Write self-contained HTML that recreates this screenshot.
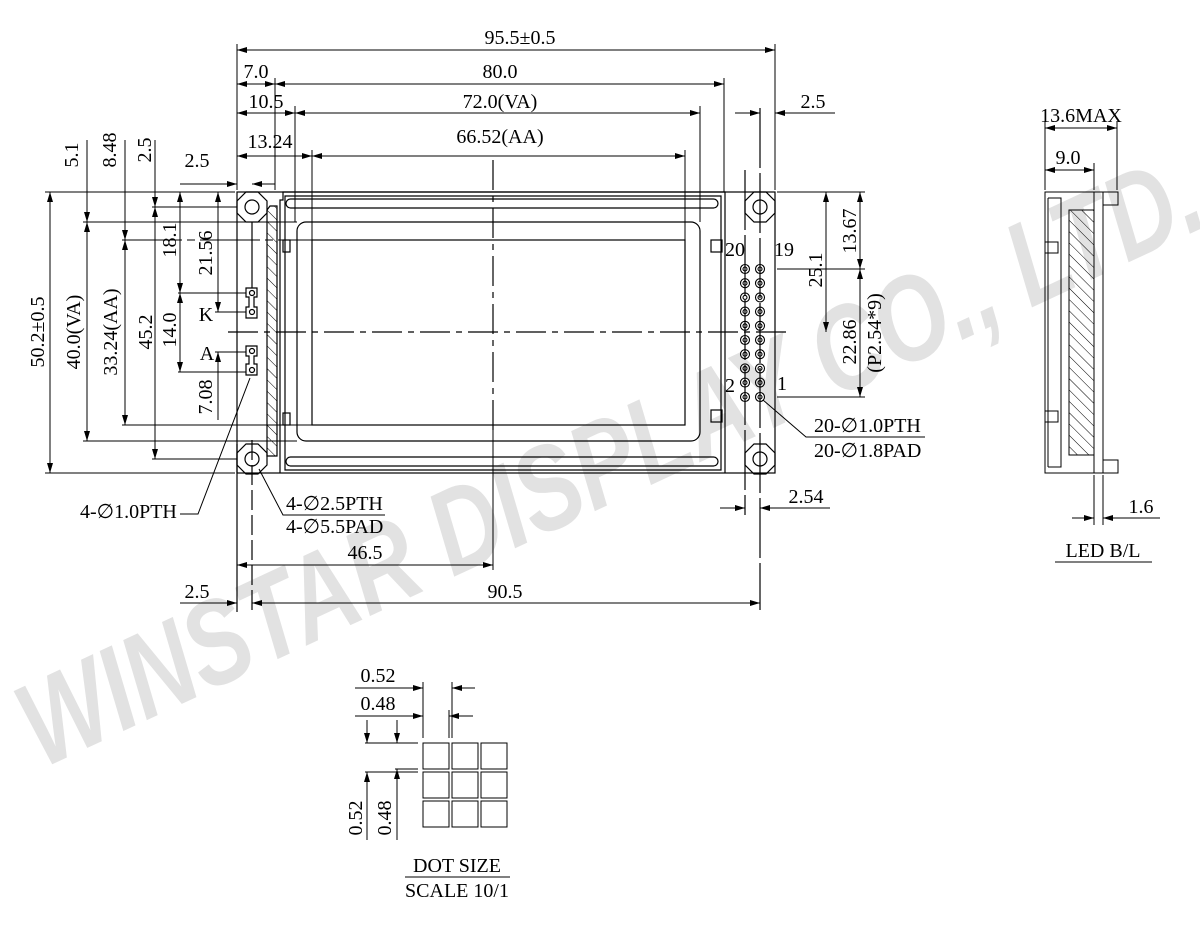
<!DOCTYPE html>
<html><head><meta charset="utf-8"><style>
html,body{margin:0;padding:0;background:#fff}
svg{display:block}
text{font-family:"Liberation Serif",serif;font-size:20px;fill:#000}
</style></head><body>
<svg width="1200" height="925" viewBox="0 0 1200 925" xmlns="http://www.w3.org/2000/svg">
<defs>
<marker id="a" viewBox="0 0 10 6" refX="10" refY="3" markerWidth="10" markerHeight="6" orient="auto-start-reverse" markerUnits="userSpaceOnUse"><path d="M0,0 L10,3 L0,6 z" fill="#000"/></marker>
<pattern id="h" width="8" height="8" patternUnits="userSpaceOnUse" patternTransform="rotate(-45)"><line x1="0" y1="0" x2="0" y2="8" stroke="#000" stroke-width="1"/></pattern>
</defs>
<!-- watermark -->
<text x="610" y="500" transform="rotate(-25 610 460)" text-anchor="middle" textLength="1290" lengthAdjust="spacingAndGlyphs" style="font-family:'Liberation Sans',sans-serif;font-weight:bold;font-style:italic;font-size:120px;fill:#e2e2e2">WINSTAR DISPLAY CO., LTD.</text>

<g stroke="#000" stroke-width="1.2" fill="none">
<rect x="237" y="192" width="538" height="281"/>
<g id="hole">
<polygon points="246,192 258,192 267,201 267,213 258,222 246,222 237,213 237,201"/>
<circle cx="252" cy="207" r="7"/>
</g>
<use href="#hole" y="252"/>
<use href="#hole" x="508"/>
<use href="#hole" x="508" y="252"/>
<path d="M280,473 V200 H283 V192 H725 V473"/>
<path d="M285,470 V196 H721 V470 Z"/>
<rect x="286" y="199" width="432" height="9" rx="4.5"/>
<rect x="286" y="457" width="432" height="9" rx="4.5"/>
<rect x="297" y="222" width="403" height="219" rx="9"/>
<rect x="312" y="240" width="373" height="185"/>
<rect x="283" y="240" width="7" height="12"/><rect x="283" y="413" width="7" height="12"/>
<rect x="711" y="240" width="11" height="12"/><rect x="711" y="410" width="11" height="12"/>
<path d="M267,210 L270,206 H277 V456 H267 Z" fill="url(#h)"/>
<path d="M246,288 H257 V297 H254 V307 H257 V318 H246 V307 H249 V297 H246 Z"/>
<circle cx="252" cy="293" r="2.5"/><circle cx="252" cy="312" r="2.5"/>
<path d="M246,346 H257 V356 H254 V364 H257 V375 H246 V364 H249 V356 H246 Z"/>
<circle cx="252" cy="351" r="2.5"/><circle cx="252" cy="370" r="2.5"/>
<line x1="252" y1="222" x2="252" y2="288"/>
<line x1="228" y1="332" x2="790" y2="332" stroke-dasharray="30,6,6,6"/>
<line x1="493" y1="160" x2="493" y2="430" stroke-dasharray="30,6,6,6"/>
<line x1="237" y1="444" x2="237" y2="612"/>
<line x1="252" y1="440" x2="252" y2="612" stroke-dasharray="20,5"/>
<line x1="745" y1="170" x2="745" y2="515" stroke-dasharray="60,5"/>
<line x1="760" y1="108" x2="760" y2="610" stroke-dasharray="60,5"/>
</g>
<g stroke="#000" stroke-width="1.1" fill="none">
<g id="pcol">
<circle cx="745" cy="269" r="4.5"/><circle cx="745" cy="283.2" r="4.5"/><circle cx="745" cy="297.4" r="4.5"/><circle cx="745" cy="311.6" r="4.5"/><circle cx="745" cy="325.8" r="4.5"/><circle cx="745" cy="340" r="4.5"/><circle cx="745" cy="354.2" r="4.5"/><circle cx="745" cy="368.4" r="4.5"/><circle cx="745" cy="382.6" r="4.5"/><circle cx="745" cy="397" r="4.5"/>
<circle cx="745" cy="269" r="2"/><circle cx="745" cy="283.2" r="2"/><circle cx="745" cy="297.4" r="2"/><circle cx="745" cy="311.6" r="2"/><circle cx="745" cy="325.8" r="2"/><circle cx="745" cy="340" r="2"/><circle cx="745" cy="354.2" r="2"/><circle cx="745" cy="368.4" r="2"/><circle cx="745" cy="382.6" r="2"/><circle cx="745" cy="397" r="2"/>
</g>
<use href="#pcol" x="15"/>
</g>

<g stroke="#000" stroke-width="1" fill="none">
<line x1="237" y1="44" x2="237" y2="190"/>
<line x1="775" y1="44" x2="775" y2="190"/>
<line x1="275" y1="78" x2="275" y2="190"/>
<line x1="724" y1="78" x2="724" y2="192"/>
<line x1="295" y1="106" x2="295" y2="222"/>
<line x1="700" y1="106" x2="700" y2="222"/>
<line x1="312" y1="150" x2="312" y2="240"/>
<line x1="685" y1="150" x2="685" y2="240"/>
<line x1="275" y1="108" x2="275" y2="152"/>
<line x1="237" y1="50" x2="775" y2="50" marker-start="url(#a)" marker-end="url(#a)"/>
<line x1="237" y1="84" x2="275" y2="84" marker-start="url(#a)" marker-end="url(#a)"/>
<line x1="275" y1="84" x2="724" y2="84" marker-start="url(#a)" marker-end="url(#a)"/>
<line x1="237" y1="113" x2="295" y2="113" marker-start="url(#a)" marker-end="url(#a)"/>
<line x1="295" y1="113" x2="700" y2="113" marker-start="url(#a)" marker-end="url(#a)"/>
<line x1="237" y1="156" x2="312" y2="156" marker-start="url(#a)" marker-end="url(#a)"/>
<line x1="312" y1="156" x2="685" y2="156" marker-start="url(#a)" marker-end="url(#a)"/>
<line x1="180" y1="184" x2="237" y2="184" marker-end="url(#a)"/>
<line x1="275" y1="184" x2="252" y2="184" marker-end="url(#a)"/>
<line x1="735" y1="113" x2="760" y2="113" marker-end="url(#a)"/>
<line x1="835" y1="113" x2="775" y2="113" marker-end="url(#a)"/>

<line x1="45" y1="192" x2="235" y2="192"/>
<line x1="45" y1="473" x2="235" y2="473"/>
<line x1="50" y1="192" x2="50" y2="473" marker-start="url(#a)" marker-end="url(#a)"/>
<line x1="83" y1="222" x2="297" y2="222"/>
<line x1="83" y1="441" x2="297" y2="441"/>
<line x1="87" y1="140" x2="87" y2="222" marker-end="url(#a)"/>
<line x1="87" y1="222" x2="87" y2="441" marker-start="url(#a)" marker-end="url(#a)"/>
<line x1="122" y1="240" x2="312" y2="240" stroke-dasharray="60,5,8,5"/>
<line x1="122" y1="425" x2="312" y2="425"/>
<line x1="125" y1="140" x2="125" y2="240" marker-end="url(#a)"/>
<line x1="125" y1="240" x2="125" y2="425" marker-start="url(#a)" marker-end="url(#a)"/>
<line x1="152" y1="207" x2="237" y2="207"/>
<line x1="152" y1="459" x2="237" y2="459"/>
<line x1="155" y1="140" x2="155" y2="207" marker-end="url(#a)"/>
<line x1="155" y1="207" x2="155" y2="459" marker-start="url(#a)" marker-end="url(#a)"/>
<line x1="178" y1="293" x2="246" y2="293"/>
<line x1="178" y1="372" x2="246" y2="372"/>
<line x1="180" y1="192" x2="180" y2="293" marker-start="url(#a)" marker-end="url(#a)"/>
<line x1="180" y1="293" x2="180" y2="372" marker-start="url(#a)" marker-end="url(#a)"/>
<line x1="215" y1="312" x2="246" y2="312"/>
<line x1="215" y1="352" x2="246" y2="352"/>
<line x1="218" y1="192" x2="218" y2="312" marker-start="url(#a)" marker-end="url(#a)"/>
<line x1="218" y1="352" x2="218" y2="420" marker-start="url(#a)"/>

<line x1="777" y1="192" x2="865" y2="192"/>
<line x1="777" y1="269" x2="865" y2="269"/>
<line x1="777" y1="397" x2="865" y2="397"/>
<line x1="860" y1="192" x2="860" y2="269" marker-start="url(#a)" marker-end="url(#a)"/>
<line x1="860" y1="269" x2="860" y2="397" marker-start="url(#a)" marker-end="url(#a)"/>
<line x1="826" y1="192" x2="826" y2="332" marker-start="url(#a)" marker-end="url(#a)"/>
<line x1="720" y1="508" x2="745" y2="508" marker-end="url(#a)"/>
<line x1="830" y1="508" x2="760" y2="508" marker-end="url(#a)"/>
<polyline points="763,400 806,437 925,437"/>
<polyline points="259,469 283,515 385,515"/>
<polyline points="180,514 198,514 250,378"/>
<line x1="493" y1="430" x2="493" y2="570"/>
<line x1="237" y1="565" x2="493" y2="565" marker-start="url(#a)" marker-end="url(#a)"/>
<line x1="180" y1="603" x2="237" y2="603" marker-end="url(#a)"/>
<line x1="252" y1="603" x2="760" y2="603" marker-start="url(#a)" marker-end="url(#a)"/>

<rect x="1045" y="192" width="49" height="281"/>
<path d="M1048,198 H1061 V467 H1048"/>
<line x1="1048" y1="198" x2="1048" y2="467"/>
<rect x="1094" y="192" width="9" height="281"/>
<rect x="1103" y="192" width="15" height="13"/>
<rect x="1103" y="460" width="15" height="13"/>
<rect x="1045" y="242" width="13" height="11"/>
<rect x="1045" y="411" width="13" height="11"/>
<rect x="1069" y="210" width="25" height="245" fill="url(#h)"/>
<line x1="1045" y1="122" x2="1045" y2="190"/>
<line x1="1117" y1="122" x2="1117" y2="190"/>
<line x1="1094" y1="163" x2="1094" y2="190"/>
<line x1="1045" y1="128" x2="1117" y2="128" marker-start="url(#a)" marker-end="url(#a)"/>
<line x1="1045" y1="170" x2="1094" y2="170" marker-start="url(#a)" marker-end="url(#a)"/>
<line x1="1094" y1="475" x2="1094" y2="525"/>
<line x1="1103" y1="475" x2="1103" y2="525"/>
<line x1="1072" y1="518" x2="1094" y2="518" marker-end="url(#a)"/>
<line x1="1160" y1="518" x2="1103" y2="518" marker-end="url(#a)"/>
<line x1="1055" y1="562" x2="1152" y2="562"/>

<rect x="423" y="743" width="26" height="26"/><rect x="452" y="743" width="26" height="26"/><rect x="481" y="743" width="26" height="26"/>
<rect x="423" y="772" width="26" height="26"/><rect x="452" y="772" width="26" height="26"/><rect x="481" y="772" width="26" height="26"/>
<rect x="423" y="801" width="26" height="26"/><rect x="452" y="801" width="26" height="26"/><rect x="481" y="801" width="26" height="26"/>
<line x1="423" y1="682" x2="423" y2="738"/>
<line x1="452" y1="682" x2="452" y2="738"/>
<line x1="449" y1="710" x2="449" y2="738"/>
<line x1="355" y1="688" x2="423" y2="688" marker-end="url(#a)"/>
<line x1="475" y1="688" x2="452" y2="688" marker-end="url(#a)"/>
<line x1="355" y1="716" x2="423" y2="716" marker-end="url(#a)"/>
<line x1="473" y1="716" x2="449" y2="716" marker-end="url(#a)"/>
<line x1="365" y1="743" x2="418" y2="743"/>
<line x1="365" y1="772" x2="418" y2="772"/>
<line x1="395" y1="769" x2="418" y2="769"/>
<line x1="367" y1="720" x2="367" y2="743" marker-end="url(#a)"/>
<line x1="367" y1="840" x2="367" y2="772" marker-end="url(#a)"/>
<line x1="397" y1="720" x2="397" y2="743" marker-end="url(#a)"/>
<line x1="397" y1="840" x2="397" y2="769" marker-end="url(#a)"/>
<line x1="405" y1="877" x2="510" y2="877"/>
</g>

<g>
<text x="520" y="44" text-anchor="middle">95.5±0.5</text>
<text x="256" y="78" text-anchor="middle">7.0</text>
<text x="500" y="78" text-anchor="middle">80.0</text>
<text x="266" y="108" text-anchor="middle">10.5</text>
<text x="500" y="108" text-anchor="middle">72.0(VA)</text>
<text x="270" y="148" text-anchor="middle">13.24</text>
<text x="500" y="143" text-anchor="middle">66.52(AA)</text>
<text x="197" y="167" text-anchor="middle">2.5</text>
<text x="813" y="108" text-anchor="middle">2.5</text>
<text transform="translate(78,155) rotate(-90)" text-anchor="middle">5.1</text>
<text transform="translate(116,150) rotate(-90)" text-anchor="middle">8.48</text>
<text transform="translate(151,150) rotate(-90)" text-anchor="middle">2.5</text>
<text transform="translate(44,332) rotate(-90)" text-anchor="middle">50.2±0.5</text>
<text transform="translate(80,332) rotate(-90)" text-anchor="middle">40.0(VA)</text>
<text transform="translate(117,332) rotate(-90)" text-anchor="middle">33.24(AA)</text>
<text transform="translate(152,332) rotate(-90)" text-anchor="middle">45.2</text>
<text transform="translate(176,240) rotate(-90)" text-anchor="middle">18.1</text>
<text transform="translate(176,330) rotate(-90)" text-anchor="middle">14.0</text>
<text transform="translate(212,253) rotate(-90)" text-anchor="middle">21.56</text>
<text transform="translate(212,397) rotate(-90)" text-anchor="middle">7.08</text>
<text x="206" y="321" text-anchor="middle">K</text>
<text x="207" y="360" text-anchor="middle">A</text>
<text x="735" y="256" text-anchor="middle">20</text>
<text x="784" y="256" text-anchor="middle">19</text>
<text x="730" y="392" text-anchor="middle">2</text>
<text x="782" y="390" text-anchor="middle">1</text>
<text transform="translate(856,231) rotate(-90)" text-anchor="middle">13.67</text>
<text transform="translate(822,270) rotate(-90)" text-anchor="middle">25.1</text>
<text transform="translate(856,342) rotate(-90)" text-anchor="middle">22.86</text>
<text transform="translate(881,333) rotate(-90)" text-anchor="middle">(P2.54*9)</text>
<text x="814" y="432">20-∅1.0PTH</text>
<text x="814" y="457">20-∅1.8PAD</text>
<text x="806" y="503" text-anchor="middle">2.54</text>
<text x="80" y="518">4-∅1.0PTH</text>
<text x="286" y="510">4-∅2.5PTH</text>
<text x="286" y="533">4-∅5.5PAD</text>
<text x="365" y="559" text-anchor="middle">46.5</text>
<text x="505" y="598" text-anchor="middle">90.5</text>
<text x="197" y="598" text-anchor="middle">2.5</text>
<text x="1081" y="122" text-anchor="middle">13.6MAX</text>
<text x="1068" y="164" text-anchor="middle">9.0</text>
<text x="1141" y="513" text-anchor="middle">1.6</text>
<text x="1103" y="557" text-anchor="middle">LED B/L</text>
<text x="378" y="682" text-anchor="middle">0.52</text>
<text x="378" y="710" text-anchor="middle">0.48</text>
<text transform="translate(362,818) rotate(-90)" text-anchor="middle">0.52</text>
<text transform="translate(391,818) rotate(-90)" text-anchor="middle">0.48</text>
<text x="457" y="872" text-anchor="middle">DOT SIZE</text>
<text x="457" y="897" text-anchor="middle">SCALE 10/1</text>
</g>
</svg>
</body></html>
